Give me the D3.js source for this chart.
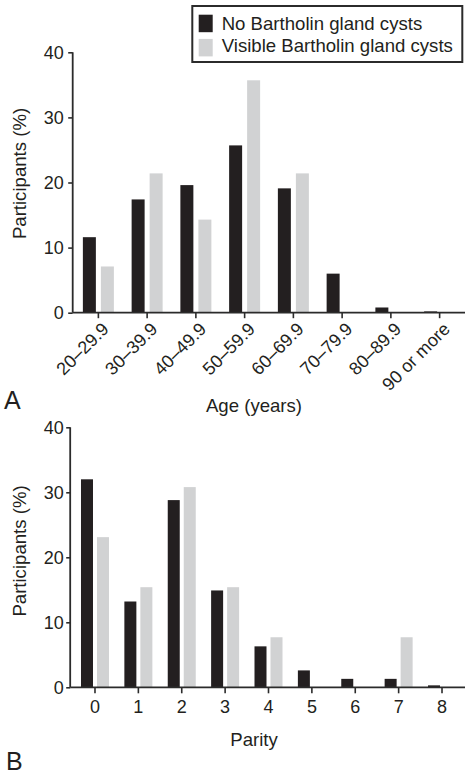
<!DOCTYPE html>
<html>
<head>
<meta charset="utf-8">
<script src="https://cdn.jsdelivr.net/npm/d3@7"></script>
<style>
  html, body { margin: 0; padding: 0; background: #fff; }
  svg { display: block; font-family: "Liberation Sans", Arial, Helvetica, sans-serif; }
</style>
</head>
<body>
<svg id="chart" width="471" height="775"></svg>
<script>
// ---- Data ----
const seriesNames = ["No Bartholin gland cysts", "Visible Bartholin gland cysts"];
const seriesColors = ["#231f20", "#d1d2d3"];

const ageCategories = ["20–29.9", "30–39.9", "40–49.9", "50–59.9", "60–69.9", "70–79.9", "80–89.9", "90 or more"];
const ageNoCysts = [11.6, 17.4, 19.6, 25.7, 19.1, 6.0, 0.8, 0.2];
const ageVisibleCysts = [7.1, 21.4, 14.3, 35.7, 21.4, 0, 0, 0];

const parityCategories = ["0", "1", "2", "3", "4", "5", "6", "7", "8"];
const parityNoCysts = [32.0, 13.2, 28.8, 14.9, 6.3, 2.6, 1.3, 1.3, 0.3];
const parityVisibleCysts = [23.1, 15.4, 30.8, 15.4, 7.7, 0, 0, 7.7, 0];

const yTicks = [0, 10, 20, 30, 40];

// ---- Drawing ----
const svg = d3.select("#chart");
const axisColor = "#2b2b2b";
const tickFont = 18;
const titleFont = 18.6;

function drawPanel(opts) {
  const g = svg.append("g");
  const y = d3.scaleLinear().domain([0, 40]).range([opts.y0, opts.y1]);
  const x = d3.scaleBand().domain(opts.categories).range([opts.xr0, opts.xr1]);
  const x1 = d3.scaleBand().domain(seriesNames).range(opts.subRange).paddingInner(opts.subPad);

  const data = opts.categories.map((c, i) => ({
    cat: c,
    vals: [opts.s1[i], opts.s2[i]]
  }));

  // bars
  const grp = g.selectAll("g.cat").data(data).join("g")
    .attr("transform", d => `translate(${x(d.cat) + x.bandwidth() / 2},0)`);
  grp.selectAll("rect").data(d => d.vals.map((v, k) => ({ v, k }))).join("rect")
    .attr("x", d => x1(seriesNames[d.k]))
    .attr("width", x1.bandwidth())
    .attr("y", d => y(d.v))
    .attr("height", d => y(0) - y(d.v))
    .attr("fill", d => seriesColors[d.k]);

  // y axis
  const yAxis = d3.axisLeft(y).tickValues(yTicks).tickSize(opts.yTickLen).tickPadding(opts.yTickPad);
  const ya = g.append("g").attr("transform", `translate(${opts.axisX},0)`).call(yAxis);
  ya.select(".domain").attr("d", `M0,${opts.y1}V${opts.y0}`).attr("stroke", axisColor).attr("stroke-width", 1.8);
  ya.selectAll(".tick line").attr("stroke", axisColor).attr("stroke-width", 1.6);
  ya.selectAll(".tick text").attr("font-size", tickFont).attr("fill", "#231f20")
    .attr("font-family", "Liberation Sans, Arial, sans-serif");

  // x axis
  const xAxis = d3.axisBottom(x).tickSize(opts.xTickLen).tickPadding(opts.xTickPad);
  const xa = g.append("g").attr("transform", `translate(0,${opts.y0})`).call(xAxis);
  xa.select(".domain").attr("d", `M${opts.axisX},0H${opts.xEnd}`).attr("stroke", axisColor).attr("stroke-width", 1.8);
  xa.selectAll(".tick line").attr("stroke", axisColor).attr("stroke-width", 1.6);
  const xt = xa.selectAll(".tick text").attr("font-size", tickFont).attr("fill", "#231f20")
    .attr("font-family", "Liberation Sans, Arial, sans-serif");
  if (opts.rotate) {
    xt.attr("text-anchor", "end").attr("dy", null).attr("y", null)
      .attr("transform", "translate(11.5,17.5) rotate(-45)");
  }

  // y title
  g.append("text")
    .attr("transform", `translate(${opts.yTitleX},${opts.yTitleY}) rotate(-90)`)
    .attr("text-anchor", "middle")
    .attr("font-size", titleFont).attr("fill", "#231f20")
    .text("Participants (%)");

  // x title
  g.append("text")
    .attr("x", 254).attr("y", opts.xTitleY)
    .attr("text-anchor", "middle")
    .attr("font-size", titleFont).attr("fill", "#231f20")
    .text(opts.xTitle);

  // panel letter
  g.append("text")
    .attr("x", opts.letterX).attr("y", opts.letterY)
    .attr("font-size", 25).attr("fill", "#231f20")
    .text(opts.letter);
  return g;
}

drawPanel({
  categories: ageCategories, s1: ageNoCysts, s2: ageVisibleCysts,
  y0: 312.7, y1: 52.3, xr0: 74, xr1: 464, xEnd: 465, axisX: 72.7,
  subRange: [-15.5, 15.5], subPad: 0.278,
  yTickLen: 4.5, yTickPad: 4.5, xTickLen: 5.5, xTickPad: 4, rotate: true,
  yTitleX: 26, yTitleY: 173.5, xTitle: "Age (years)", xTitleY: 411.5,
  letter: "A", letterX: 4, letterY: 408.5
});

drawPanel({
  categories: parityCategories, s1: parityNoCysts, s2: parityVisibleCysts,
  y0: 687.3, y1: 427.3, xr0: 73.3, xr1: 463.7, xEnd: 465, axisX: 70.2,
  subRange: [-14, 14], subPad: 0.25,
  yTickLen: 4, yTickPad: 2.5, xTickLen: 6, xTickPad: 7, rotate: false,
  yTitleX: 26, yTitleY: 551, xTitle: "Parity", xTitleY: 745.5,
  letter: "B", letterX: 6, letterY: 769.5
});

// legend
const leg = svg.append("g");
leg.append("rect").attr("x", 192.3).attr("y", 6).attr("width", 270).attr("height", 56)
  .attr("fill", "#fff").attr("stroke", axisColor).attr("stroke-width", 2);
seriesNames.forEach((name, i) => {
  leg.append("rect").attr("x", 198.7).attr("y", 14.7 + i * 24.2).attr("width", 14).attr("height", 17.5)
    .attr("fill", seriesColors[i]);
  leg.append("text").attr("x", 221.7).attr("y", 29.7 + i * 22.3)
    .attr("font-size", titleFont).attr("fill", "#231f20").text(name);
});
</script>
</body>
</html>
